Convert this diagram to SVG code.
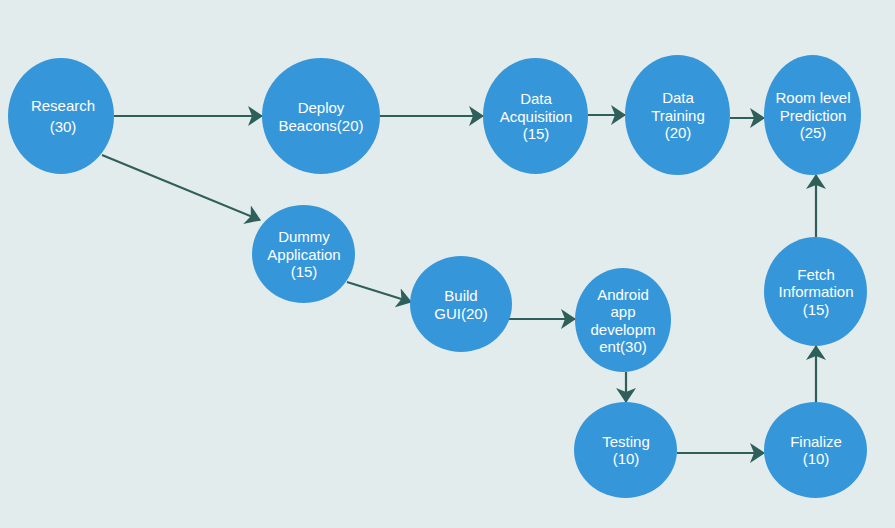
<svg xmlns="http://www.w3.org/2000/svg" width="895" height="528" viewBox="0 0 895 528">
<style>
.n{fill:#3597da;}
.t{fill:#ffffff;font-family:"Liberation Sans",Arial,sans-serif;font-size:15px;text-anchor:middle;}
.c{stroke:#2e5f5a;stroke-width:2.2;fill:none;marker-end:url(#ah);}
</style>
<defs>
<marker id="ah" markerUnits="userSpaceOnUse" markerWidth="15" markerHeight="20" viewBox="0 0 15 20" refX="14" refY="10" orient="auto">
<path d="M0,0 L15,10 L0,20 L4,10 Z" fill="#2e5f5a"/>
</marker>
</defs>
<rect width="895" height="528" fill="#e3ecec"/>
<g id="connectors">
<line class="c" x1="114" y1="116" x2="262" y2="116"/>
<line class="c" x1="380" y1="116" x2="483" y2="116"/>
<line class="c" x1="588" y1="115" x2="625" y2="115"/>
<line class="c" x1="730" y1="118" x2="764" y2="118"/>
<line class="c" x1="102" y1="155" x2="260" y2="220"/>
<line class="c" x1="347" y1="282" x2="411" y2="302"/>
<line class="c" x1="505" y1="319" x2="575" y2="319"/>
<line class="c" x1="626" y1="372" x2="626" y2="402"/>
<line class="c" x1="677" y1="453" x2="764" y2="453"/>
<line class="c" x1="816" y1="402" x2="816" y2="346"/>
<line class="c" x1="816" y1="237" x2="816" y2="175"/>
</g>
<g id="research">
<ellipse class="n" cx="61" cy="116" rx="53" ry="58"/>
<text class="t" x="63" y="111">Research</text>
<text class="t" x="63" y="132">(30)</text>
</g>
<g id="deploy">
<ellipse class="n" cx="321" cy="116" rx="59" ry="58"/>
<text class="t" x="321" y="113">Deploy</text>
<text class="t" x="321" y="131">Beacons(20)</text>
</g>
<g id="dataacq">
<ellipse class="n" cx="535.5" cy="116" rx="52.5" ry="58"/>
<text class="t" x="536" y="104">Data</text>
<text class="t" x="536" y="121.5">Acquisition</text>
<text class="t" x="536" y="139">(15)</text>
</g>
<g id="training">
<ellipse class="n" cx="677.5" cy="115" rx="52.5" ry="60"/>
<text class="t" x="678" y="103">Data</text>
<text class="t" x="678" y="120.5">Training</text>
<text class="t" x="678" y="138">(20)</text>
</g>
<g id="room">
<ellipse class="n" cx="812.5" cy="115" rx="48.5" ry="60"/>
<text class="t" x="813" y="103">Room level</text>
<text class="t" x="813" y="120.5">Prediction</text>
<text class="t" x="813" y="138">(25)</text>
</g>
<g id="dummy">
<ellipse class="n" cx="303.5" cy="254" rx="51.5" ry="49"/>
<text class="t" x="304" y="242">Dummy</text>
<text class="t" x="304" y="259.5">Application</text>
<text class="t" x="304" y="277">(15)</text>
</g>
<g id="buildgui">
<ellipse class="n" cx="461" cy="304" rx="51" ry="48"/>
<text class="t" x="461" y="301">Build</text>
<text class="t" x="461" y="318.5">GUI(20)</text>
</g>
<g id="android">
<ellipse class="n" cx="623" cy="320" rx="48" ry="52"/>
<text class="t" x="623" y="299.5">Android</text>
<text class="t" x="623" y="317">app</text>
<text class="t" x="623" y="334.5">developm</text>
<text class="t" x="623" y="352">ent(30)</text>
</g>
<g id="testing">
<ellipse class="n" cx="625.5" cy="450" rx="51.5" ry="48"/>
<text class="t" x="626" y="446.5">Testing</text>
<text class="t" x="626" y="464">(10)</text>
</g>
<g id="finalize">
<ellipse class="n" cx="815.5" cy="450" rx="51.5" ry="48"/>
<text class="t" x="816" y="446.5">Finalize</text>
<text class="t" x="816" y="464">(10)</text>
</g>
<g id="fetch">
<ellipse class="n" cx="815.5" cy="291.5" rx="51.5" ry="54.5"/>
<text class="t" x="816" y="279.5">Fetch</text>
<text class="t" x="816" y="297">Information</text>
<text class="t" x="816" y="314.5">(15)</text>
</g>
</svg>
